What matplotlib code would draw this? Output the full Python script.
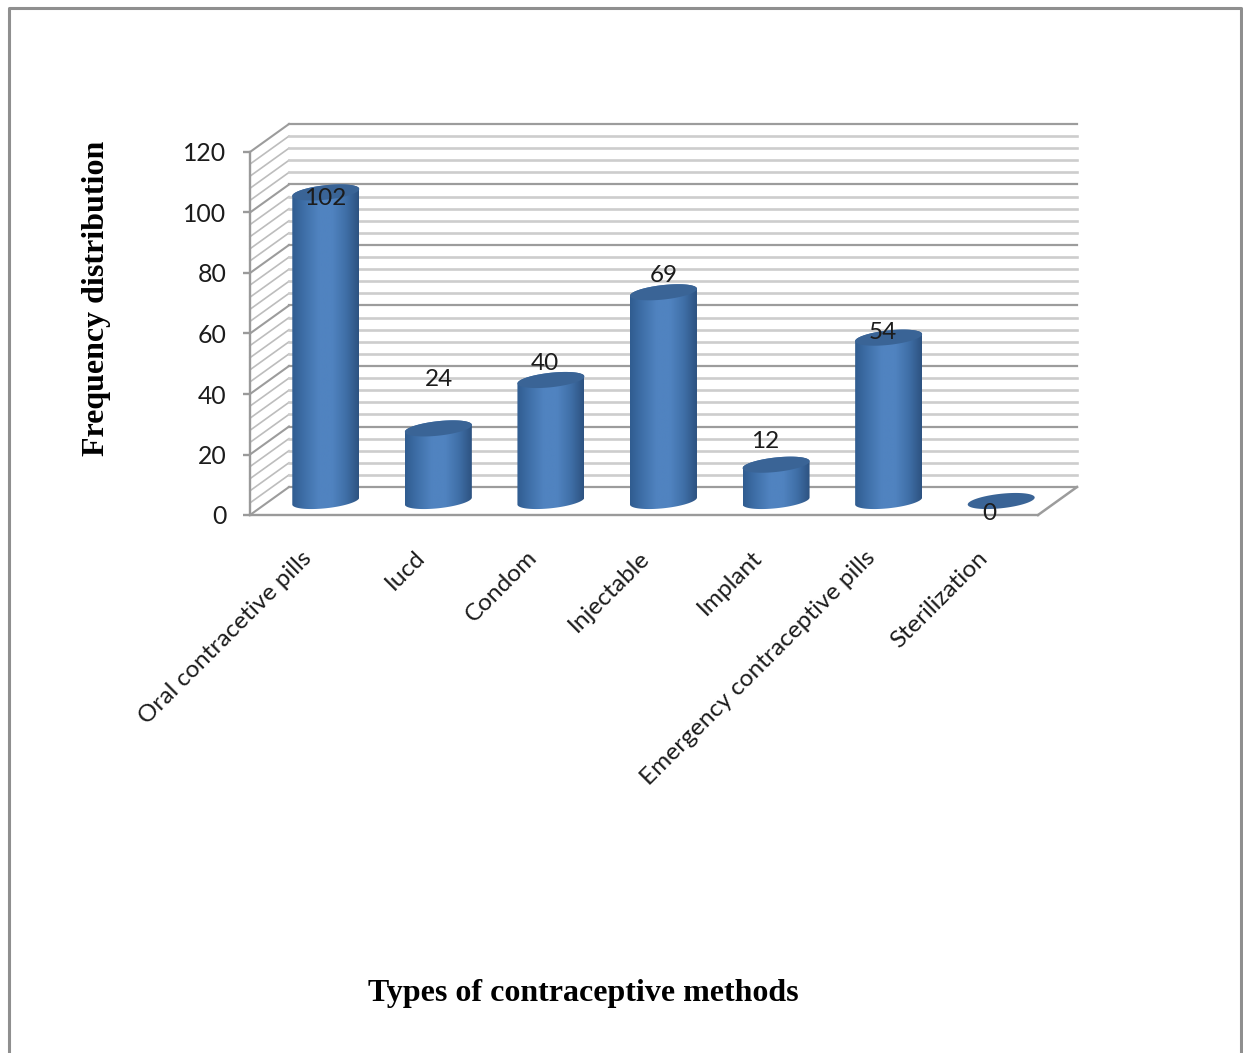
import matplotlib
matplotlib.use("Agg")
import matplotlib.pyplot as plt
import numpy as np
from matplotlib.colors import LinearSegmentedColormap
from matplotlib.lines import Line2D
from matplotlib.patches import Polygon
from matplotlib.transforms import ScaledTranslation

categories = ["Oral contracetive pills", "Iucd", "Condom", "Injectable", "Implant",
              "Emergency contraceptive pills", "Sterilization"]
values = [102, 24, 40, 69, 12, 54, 0]
label_nudge = [(-1, -6), (1, 49), (-6, 16), (0, 17), (-11, 23), (-6, 5), (-12, -12)]

W, H = 1243, 1053
colors = {
    "major": "#9c9c9c",
    "minor": "#cdcdcd",
    "side": "#bdbdbd",
    "axis": "#9a9a9a",
    "frame": "#8f8f8f",
    "top": "#3a6496",
    "text": "#1c1c1c",
}
bar_cmap = LinearSegmentedColormap.from_list(
    "cyl", ["#305c90", "#4071aa", "#5083c0", "#5083c0", "#4070a8", "#2d5280"])

fig = plt.figure(figsize=(W / 100, H / 100), dpi=100)
ax = fig.add_axes([250 / W, 1 - 515 / H, 788 / W, 363 / H])
ax.set_xlim(-0.5, 6.5)
ax.set_ylim(0, 120)

# 3d look: depth of the floor in data units
dx = 39 / 112.6
dy = 28 / 3.025
x0, x1 = -0.5, 6.5

for y in np.arange(0, 121, 4):
    major = y % 20 == 0
    # side wall lines are thinner than the back wall ones
    ax.plot([x0, x0 + dx], [y, y + dy], color=colors["major"] if major else colors["side"],
            lw=1.5 if major else 1.2, clip_on=False, zorder=1)
    ax.plot([x0 + dx, x1 + dx], [y + dy, y + dy], color=colors["major"] if major else colors["minor"],
            lw=1.6 if major else 1.9, clip_on=False, zorder=1)
ax.plot([x1, x1 + dx], [0, dy], color=colors["major"], lw=1.8, clip_on=False, zorder=1)

for s in ["top", "right"]:
    ax.spines[s].set_visible(False)
for s in ["left", "bottom"]:
    ax.spines[s].set_color(colors["axis"])
    ax.spines[s].set_linewidth(1.7)
    ax.spines[s].set_zorder(2)

# cylinders, sheared ellipses so the right side sits higher
rx, ry, shear = 0.2975, 2.4, 1.15
t = np.linspace(0, 2 * np.pi, 121)
t_low = np.linspace(np.pi, 2 * np.pi, 61)
t_up = np.linspace(0, np.pi, 61)
y_base = dy / 2

for i, v in enumerate(values):
    cx = i + dx / 2
    top_y = y_base + v
    if v > 0:
        low = np.c_[cx + rx * np.cos(t_low), y_base + ry * np.sin(t_low) + shear * np.cos(t_low)]
        up = np.c_[cx + rx * np.cos(t_up), top_y + ry * np.sin(t_up) + shear * np.cos(t_up)]
        body = Polygon(np.r_[low, up], closed=True, transform=ax.transData, fc="none", ec="none")
        ax.add_patch(body)
        im = ax.imshow(np.linspace(0, 1, 256)[None, :], cmap=bar_cmap, aspect="auto",
                       extent=[cx - rx, cx + rx, 0, top_y + 4], zorder=3,
                       interpolation="bilinear")
        im.set_clip_path(body)
    ax.fill(cx + rx * np.cos(t), top_y + ry * np.sin(t) + shear * np.cos(t),
            color=colors["top"], lw=0, zorder=4)
    ax.annotate(str(v), (cx, top_y), xytext=label_nudge[i], textcoords="offset pixels",
                ha="center", va="center", fontsize=17.5, family="Lato",
                color=colors["text"], zorder=5, annotation_clip=False)

ax.set_xlim(-0.5, 6.5)
ax.set_ylim(0, 120)

ax.set_yticks(np.arange(0, 121, 20))
ax.tick_params(axis="y", length=5, width=1.7, color=colors["axis"], pad=12,
               labelsize=17.8, labelcolor=colors["text"])
ax.set_xticks(np.arange(len(categories)), categories, rotation=45, ha="right",
              rotation_mode="anchor", family="Lato", fontsize=17.6, color=colors["text"])
ax.tick_params(axis="x", length=0, pad=23)
for lab in ax.get_yticklabels():
    lab.set_family("Lato")
shift = ScaledTranslation(-5 / 100, 0, fig.dpi_scale_trans)
for lab in ax.get_xticklabels():
    lab.set_transform(lab.get_transform() + shift)

fig.text(97 / W, 1 - 298 / H, "Frequency distribution", rotation=90, ha="center", va="center",
         family="Liberation Serif", fontweight="bold", fontsize=23, color="black")
fig.text(583 / W, 1 - 993 / H, "Types of contraceptive methods", ha="center", va="center",
         family="Liberation Serif", fontweight="bold", fontsize=23, color="black")

# outer frame of the pasted chart
fig.add_artist(Line2D([9 / W, 9 / W, 1241 / W, 1241 / W], [0, 1 - 7.5 / H, 1 - 7.5 / H, 0],
                      color=colors["frame"], lw=2.2))

fig.savefig("out.png", dpi=100)
